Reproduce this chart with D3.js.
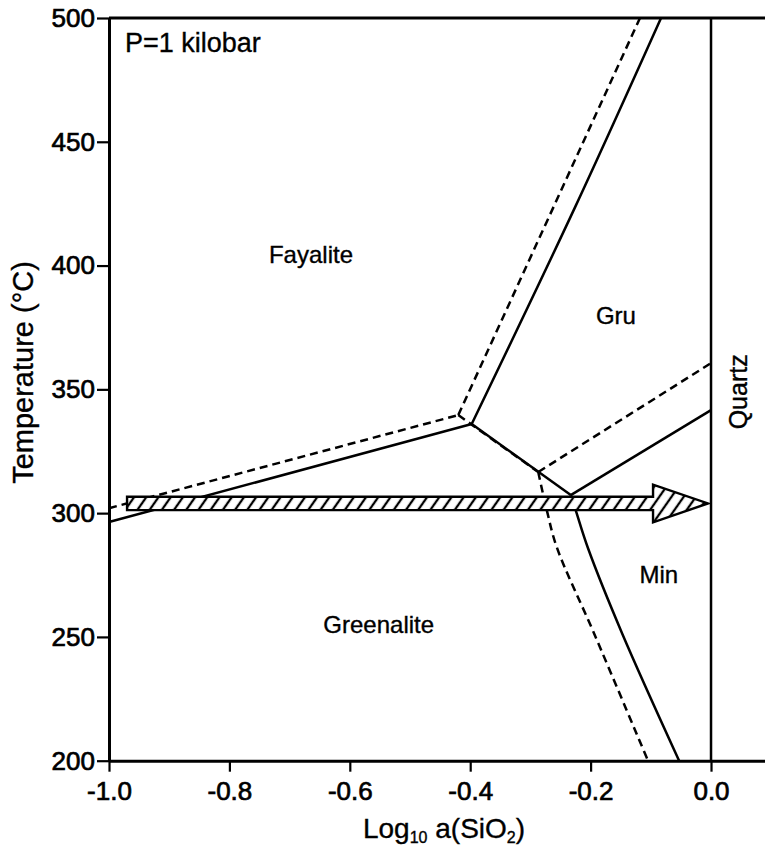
<!DOCTYPE html>
<html>
<head>
<meta charset="utf-8">
<script src="https://cdn.jsdelivr.net/npm/d3@7"></script>
<style>
  body { margin: 0; background: #fff; }
  svg { display: block; font-family: "Liberation Sans", Arial, sans-serif; }
  text { stroke: #000; stroke-width: 0.35px; }
</style>
</head>
<body>
<div id="chart"></div>
<script>
// axis ticks
const xTicks = [-1.0, -0.8, -0.6, -0.4, -0.2, 0.0];
const yTicks = [200, 250, 300, 350, 400, 450, 500];

// phase boundaries, [log a(SiO2), T] -- solid
const solidFayGreen = [[-1.0, 296.4], [-0.3975, 336.0]];
const solidFayGru = [[-0.3975, 336.0], [-0.225, 424.0], [-0.083, 500]];
const solidGreenGru = [[-0.3975, 336.0], [-0.233, 307.3]];
const solidGruMin = [[-0.233, 307.3], [0.0, 341.6]];
const solidGreenMin = [[-0.233, 307.3], [-0.2243, 300.8], [-0.2043, 285.8], [-0.1478, 251.5], [-0.053, 200]];
const quartzLine = [[0.0, 200], [0.0, 500]];

// dashed
const dashFayGreen = [[-1.0, 302.0], [-0.4198, 339.6]];
const dashFayGru = [[-0.4198, 339.6], [-0.118, 500]];
const dashGreenGru = [[-0.4198, 339.6], [-0.287, 316.6]];
const dashGruMin = [[-0.287, 316.6], [0.0, 360.6]];
const dashGreenMin = [[-0.287, 316.6], [-0.2724, 300.8], [-0.2563, 286.3], [-0.1944, 251.5], [-0.1047, 200]];

// hatched arrow (x start, head base, tip; T centre, half widths)
const arrowX = [-0.970, -0.0963, -0.005];
const arrowT = 303.9;
const arrowHalf = [2.7, 7.6];

// labels
const regionNames = ["Fayalite", "Gru", "Min", "Greenalite"];
const regionX = [-0.6645, -0.158, -0.0867, -0.552];
const regionY = [401.0, 376.4, 271.6, 251.6];

const width = 765, height = 847;

const svg = d3.select("#chart").append("svg")
    .attr("width", width)
    .attr("height", height);

const x = d3.scaleLinear().domain([-1.0, 0.09]).range([109, 765.2]);
const y = d3.scaleLinear().domain([200, 500]).range([760.7, 18]);

// hatch pattern
svg.append("defs").append("pattern")
    .attr("id", "hatch")
    .attr("patternUnits", "userSpaceOnUse")
    .attr("width", 10).attr("height", 10)
    .attr("patternTransform", "rotate(35)")
  .append("line")
    .attr("x1", 5).attr("y1", -1).attr("x2", 5).attr("y2", 11)
    .attr("stroke", "#000").attr("stroke-width", 2.3);

const line = d3.line().x(d => x(d[0])).y(d => y(d[1]));
const curve = d3.line().x(d => x(d[0])).y(d => y(d[1])).curve(d3.curveCatmullRom);

// dashed lines
[dashFayGreen, dashFayGru, dashGreenGru, dashGruMin].forEach(d => {
  svg.append("path").datum(d)
    .attr("fill", "none").attr("stroke", "#000")
    .attr("stroke-width", 2.5).attr("stroke-dasharray", "8,5")
    .attr("d", line);
});
svg.append("path").datum(dashGreenMin)
    .attr("fill", "none").attr("stroke", "#000")
    .attr("stroke-width", 2.5).attr("stroke-dasharray", "8,5")
    .attr("d", curve);

// solid lines
[solidFayGreen, solidGreenGru, solidGruMin, quartzLine].forEach(d => {
  svg.append("path").datum(d)
    .attr("fill", "none").attr("stroke", "#000")
    .attr("stroke-width", 2.5)
    .attr("d", line);
});
[solidFayGru, solidGreenMin].forEach(d => {
  svg.append("path").datum(d)
    .attr("fill", "none").attr("stroke", "#000")
    .attr("stroke-width", 2.5)
    .attr("d", curve);
});

// arrow
const arrowPts = [
  [arrowX[0], arrowT + arrowHalf[0]],
  [arrowX[1], arrowT + arrowHalf[0]],
  [arrowX[1], arrowT + arrowHalf[1]],
  [arrowX[2], arrowT],
  [arrowX[1], arrowT - arrowHalf[1]],
  [arrowX[1], arrowT - arrowHalf[0]],
  [arrowX[0], arrowT - arrowHalf[0]]
];
const arrowPath = line(arrowPts) + "Z";
svg.append("path").attr("d", arrowPath).attr("fill", "#fff");
svg.append("path").attr("d", arrowPath)
    .attr("fill", "url(#hatch)")
    .attr("stroke", "#000").attr("stroke-width", 2.4)
    .attr("stroke-linejoin", "miter");

// axes
const xAxis = svg.append("g")
    .attr("transform", "translate(0," + y(200) + ")")
    .call(d3.axisBottom(x).tickValues(xTicks).tickFormat(d => d.toFixed(1))
      .tickSize(11).tickSizeOuter(0).tickPadding(10));
const yAxis = svg.append("g")
    .attr("transform", "translate(" + x(-1.0) + ",0)")
    .call(d3.axisLeft(y).tickValues(yTicks).tickFormat(d => d)
      .tickSize(12).tickSizeOuter(0).tickPadding(2));
[xAxis, yAxis].forEach(g => {
  g.select(".domain").attr("stroke-width", 3);
  g.selectAll(".tick line").attr("stroke-width", 2.2);
  g.selectAll(".tick text")
    .attr("font-family", "'Liberation Sans', Arial, sans-serif")
    .attr("font-size", 26).attr("fill", "#000")
    .style("stroke-width", "0.7px");
});

// top frame
svg.append("line")
    .attr("x1", x(-1.0)).attr("x2", x(0.09))
    .attr("y1", y(500)).attr("y2", y(500))
    .attr("stroke", "#000").attr("stroke-width", 3);

// region labels
regionNames.forEach((name, i) => {
  svg.append("text")
    .attr("x", x(regionX[i])).attr("y", y(regionY[i]))
    .attr("text-anchor", "middle")
    .attr("font-size", 24)
    .text(name);
});

svg.append("text")
    .attr("transform", "translate(" + x(0.0598) + "," + y(349) + ") rotate(-90)")
    .attr("text-anchor", "middle")
    .attr("font-size", 25)
    .text("Quartz");

svg.append("text")
    .attr("x", x(-0.9734)).attr("y", y(486.3))
    .attr("font-size", 27)
    .text("P=1 kilobar");

// axis titles
svg.append("text")
    .attr("transform", "translate(33,372.5) rotate(-90)")
    .attr("text-anchor", "middle")
    .attr("font-size", 29)
    .text("Temperature (°C)");

const xt = svg.append("text")
    .attr("x", 444).attr("y", 838)
    .attr("text-anchor", "middle")
    .attr("font-size", 28);
xt.append("tspan").text("Log");
xt.append("tspan").attr("font-size", 16).attr("dy", 5).text("10");
xt.append("tspan").attr("dy", -5).text(" a(SiO");
xt.append("tspan").attr("font-size", 16).attr("dy", 5).text("2");
xt.append("tspan").attr("dy", -5).text(")");
</script>
</body>
</html>
